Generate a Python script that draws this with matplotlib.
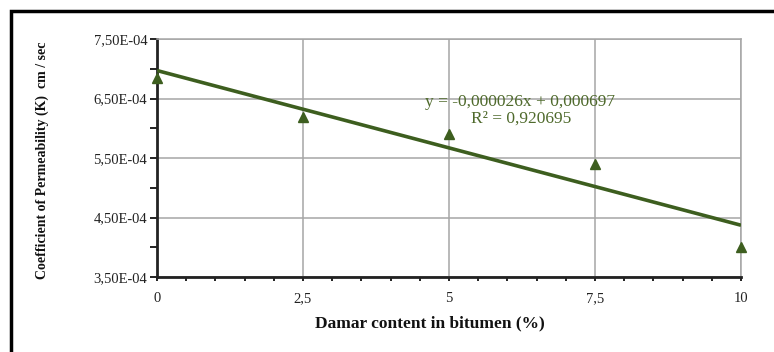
import numpy as np
import matplotlib.pyplot as plt
from matplotlib.patches import Rectangle
from matplotlib.ticker import FixedLocator, MultipleLocator, FuncFormatter

# damar content (%) and measured permeability (cm/sec)
damar = [0, 2.5, 5, 7.5, 10]
permeability = [6.85e-4, 6.19e-4, 5.90e-4, 5.40e-4, 4.01e-4]

# linear trend as reported on the chart
slope = -0.000026
intercept = 0.000697
r_squared = 0.920695

x_ticks = [0, 2.5, 5, 7.5, 10]
x_tick_labels = ["0", "2,5", "5", "7,5", "10"]
y_ticks = [3.5e-4, 4.5e-4, 5.5e-4, 6.5e-4, 7.5e-4]

green = "#3d5e1f"
text_green = "#4f6a2c"
serif = ["Liberation Serif", "DejaVu Serif"]

W, H = 774, 352
fig = plt.figure(figsize=(W / 100, H / 100), dpi=100)
ax = fig.add_axes([157 / W, 1 - 277 / H, (741 - 157) / W, (277 - 39) / H])

# outer chart frame (runs off the right and bottom edges)
fig.patches.append(Rectangle((11 / W, -0.05), 1.0, 1 - 11 / H + 0.05,
                             transform=fig.transFigure, fill=False,
                             edgecolor="black", linewidth=2.5, zorder=0))

ax.set_xlim(0, 10)
ax.set_ylim(3.5e-4, 7.5e-4)

ax.xaxis.set_major_locator(FixedLocator(x_ticks))
ax.set_xticklabels(x_tick_labels)
ax.xaxis.set_minor_locator(MultipleLocator(0.5))
ax.yaxis.set_major_locator(FixedLocator(y_ticks))
ax.yaxis.set_minor_locator(MultipleLocator(0.5e-4))
ax.yaxis.set_major_formatter(FuncFormatter(lambda v, p: f"{v:.2E}".replace(".", ",")))

ax.grid(True, which="major", color="#a6a6a6", linewidth=1.1)
ax.set_axisbelow(True)

for side in ["top", "right"]:
    ax.spines[side].set_color("#a6a6a6")
    ax.spines[side].set_linewidth(1.1)
for side in ["left", "bottom"]:
    ax.spines[side].set_color("#222222")
    ax.spines[side].set_linewidth(2)

ax.tick_params(axis="y", which="both", direction="out", length=5, width=1.3,
               color="#111111", pad=2)
ax.tick_params(axis="x", which="both", direction="out", length=3, width=1.3,
               color="#111111", pad=8)
for lab in ax.get_xticklabels() + ax.get_yticklabels():
    lab.set_fontfamily(serif)
    lab.set_fontsize(10.5)
    lab.set_color("#222222")

# trend line and data points
xs = np.array([0, 10])
ax.plot(xs, slope * xs + intercept, color=green, linewidth=2.6, zorder=3,
        solid_capstyle="butt")
ax.plot(damar, permeability, linestyle="none", marker="^", markersize=7,
        color=green, zorder=4, clip_on=False)

eq = f"y = -{abs(slope):.6f}x + {intercept:.6f}".replace(".", ",")
ax.text(520 / W, 1 - 102 / H, eq, transform=fig.transFigure, ha="center",
        va="center", fontfamily=serif, fontsize=12.5, color=text_green)
ax.text(521 / W, 1 - 119 / H, f"R² = {r_squared:.6f}".replace(".", ","),
        transform=fig.transFigure, ha="center", va="center",
        fontfamily=serif, fontsize=12.5, color=text_green)

ax.set_xlabel("Damar content in bitumen (%)", fontfamily=serif, fontsize=12.5,
              fontweight="bold", color="#111111")
ax.xaxis.set_label_coords(430 / W, 1 - 323 / H, transform=fig.transFigure)
ax.xaxis.label.set_va("center")

ax.set_ylabel("Coefficient of Permeability (K)  cm / sec", fontfamily=serif,
              fontsize=10, fontweight="bold", color="#111111")
ax.yaxis.set_label_coords(42 / W, 1 - 160 / H, transform=fig.transFigure)
ax.yaxis.label.set_va("center")

fig.savefig("out.png", dpi=100)
